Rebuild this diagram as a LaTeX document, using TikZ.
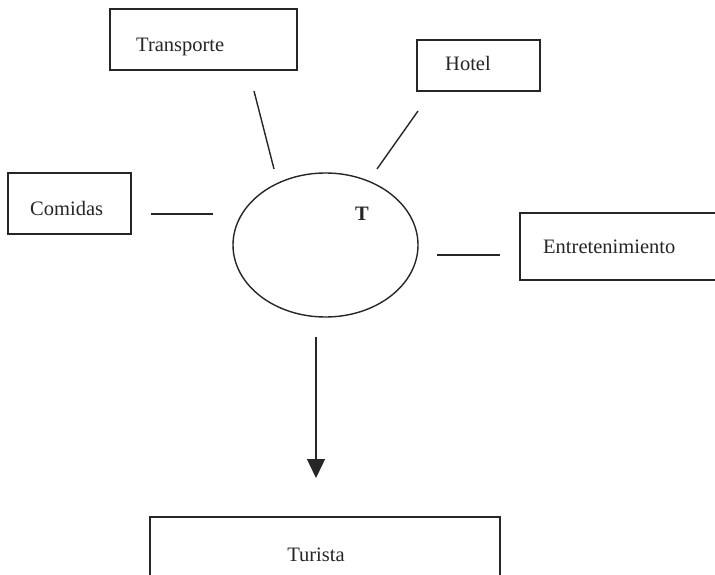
\documentclass[tikz,border=0pt]{standalone}
\usepackage{fontspec}
\setmainfont{Liberation Serif}
\usetikzlibrary{shapes.geometric,arrows.meta,calc}
\tikzset{
  box/.style={draw=black!85, line width=1.4pt, rectangle, inner sep=0pt},
  lbl/.style={inner sep=0pt, font=\fontsize{20.5}{24}\selectfont, text=black!85},
  conn/.style={draw=black!85, line width=1.4pt},
}
\begin{document}
\begin{tikzpicture}[x=1pt,y=-1pt]
\useasboundingbox (0,0) rectangle (715,575);
\clip (0,0) rectangle (715,575);
\fill[white] (0,0) rectangle (715,575);
% boxes
\node[box, minimum width=187pt, minimum height=61pt] (transporte) at (203.5,39.5) {};
\node[lbl, anchor=west] (transporteT) at (136,47) {Transporte};
\node[box, minimum width=123pt, minimum height=51pt] (hotel) at (478.5,65.5) {};
\node[lbl, anchor=west] (hotelT) at (445,63) {Hotel};
\node[box, minimum width=123pt, minimum height=61pt] (comidas) at (69.5,203.5) {};
\node[lbl, anchor=west] (comidasT) at (30,208) {Comidas};
\node[box, minimum width=240pt, minimum height=67pt] (entret) at (640,246.5) {};
\node[lbl, anchor=west] (entretT) at (543,247) {Entretenimiento};
\node[box, minimum width=350pt, minimum height=80pt] (turista) at (325,557) {};
\node[lbl] (turistaT) at (316,555) {Turista};
% ellipse
\node[draw=black!85, line width=1.4pt, ellipse, minimum width=185pt, minimum height=144pt, inner sep=0pt] (centro) at (325.5,245) {};
\node[lbl, font=\fontsize{20.5}{24}\selectfont\bfseries] (T) at (362,214) {T};
% connector end points
\coordinate (tA) at (254,91);
\coordinate (tB) at (274,169);
\coordinate (hA) at (418,111);
\coordinate (hB) at (377,169);
\coordinate (cA) at (151,214);
\coordinate (cB) at (213,214);
\coordinate (eA) at (437,255);
\coordinate (eB) at (500,255);
\coordinate (aA) at (316,337);
\coordinate (aB) at (316,478);
\draw[conn] (tA) -- (tB);
\draw[conn] (hA) -- (hB);
\draw[conn] (cA) -- (cB);
\draw[conn] (eA) -- (eB);
\draw[conn, -{Triangle[length=19pt,width=18pt]}] (aA) -- (aB);
\end{tikzpicture}
\end{document}
